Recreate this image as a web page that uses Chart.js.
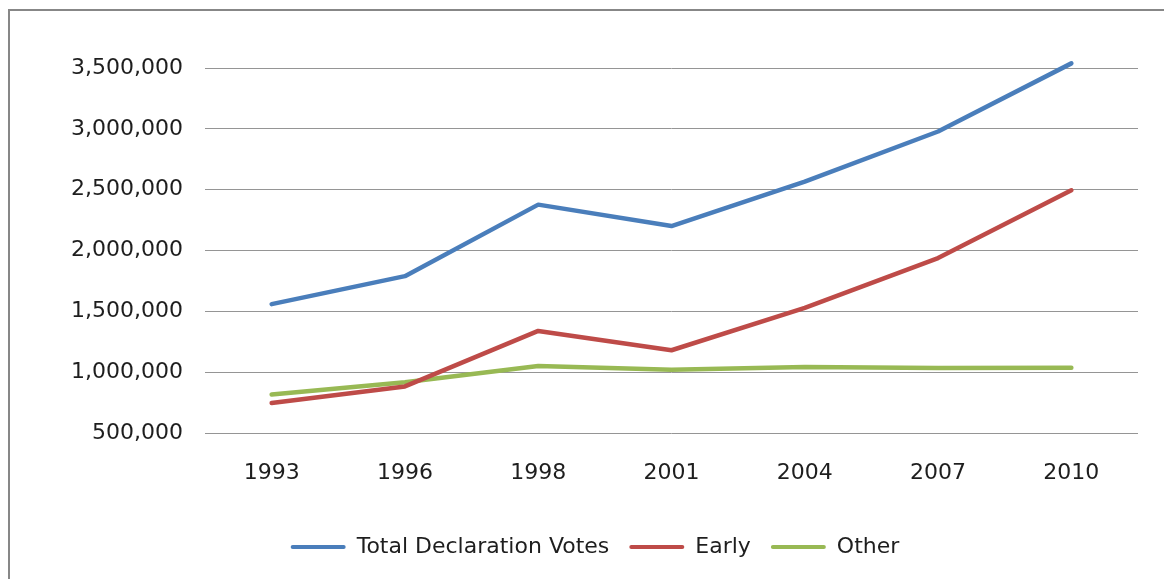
<!DOCTYPE html>
<html>
<head>
<meta charset="utf-8">
<script src="https://cdn.jsdelivr.net/npm/chart.js@4/dist/chart.umd.min.js"></script>
<style>
  html, body { margin: 0; padding: 0; background: #fff; overflow: hidden; }
  #frame {
    position: absolute; left: 8px; top: 9px; width: 1300px; height: 800px;
    border: 2px solid #878787; box-sizing: border-box;
  }
  #wrap { position: absolute; left: 0; top: 0; width: 1164px; height: 579px; }
</style>
</head>
<body>
<div id="frame"></div>
<div id="wrap"><canvas id="chart" width="1164" height="579"></canvas></div>
<script>
// Declaration votes by election year
const years = ['1993', '1996', '1998', '2001', '2004', '2007', '2010'];
const totalVotes = [1559000, 1789000, 2377000, 2201000, 2566000, 2978000, 3538000];
const earlyVotes = [746000, 883000, 1339000, 1180000, 1529000, 1938000, 2495000];
const otherVotes = [817000, 918000, 1050000, 1020000, 1042000, 1035000, 1037000];
const yTicks = [500000, 1000000, 1500000, 2000000, 2500000, 3000000, 3500000];

const FONT = 'DejaVu Sans';
const SIZE = 22;
const TEXT = '#1e1e1e';

function lineSet(label, data, color) {
  return {
    label, data,
    borderColor: color, backgroundColor: color,
    borderWidth: 4.5, pointRadius: 0, pointHoverRadius: 0,
    borderCapStyle: 'round', borderJoinStyle: 'round',
    tension: 0, clip: false
  };
}

new Chart(document.getElementById('chart'), {
  type: 'line',
  data: {
    labels: years,
    datasets: [
      lineSet('Total Declaration Votes', totalVotes, '#4a7ebb'),
      lineSet('Early', earlyVotes, '#be4b48'),
      lineSet('Other', otherVotes, '#98b954')
    ]
  },
  options: {
    responsive: false,
    animation: false,
    layout: { padding: { top: 68, right: 26, left: 52, bottom: 11 } },
    scales: {
      x: {
        offset: true,
        grid: { display: false, drawTicks: false },
        border: { display: false },
        ticks: { color: TEXT, font: { family: FONT, size: SIZE }, padding: 27, maxRotation: 0 },
        afterFit(scale) { scale.height = 83; }
      },
      y: {
        min: yTicks[0], max: yTicks[yTicks.length - 1],
        afterBuildTicks(scale) { scale.ticks = yTicks.map(v => ({ value: v })); },
        grid: { color: '#959595', lineWidth: 1, drawTicks: false },
        border: { display: false },
        ticks: {
          color: TEXT, font: { family: FONT, size: SIZE }, padding: 22,
          callback: v => Number(v).toLocaleString('en-US')
        },
        afterFit(scale) { scale.width = 153; }
      }
    },
    plugins: {
      tooltip: { enabled: false },
      legend: {
        position: 'bottom',
        labels: {
          color: TEXT, font: { family: FONT, size: SIZE },
          boxWidth: 55, boxHeight: 4, padding: 20,
          useBorderRadius: true, borderRadius: 2,
          generateLabels(chart) {
            return chart.data.datasets.map((ds, i) => ({
              text: ds.label, fillStyle: ds.borderColor, strokeStyle: ds.borderColor,
              lineWidth: 0, fontColor: TEXT, datasetIndex: i, hidden: false,
              borderRadius: 2
            }));
          }
        }
      }
    }
  }
});
</script>
</body>
</html>
